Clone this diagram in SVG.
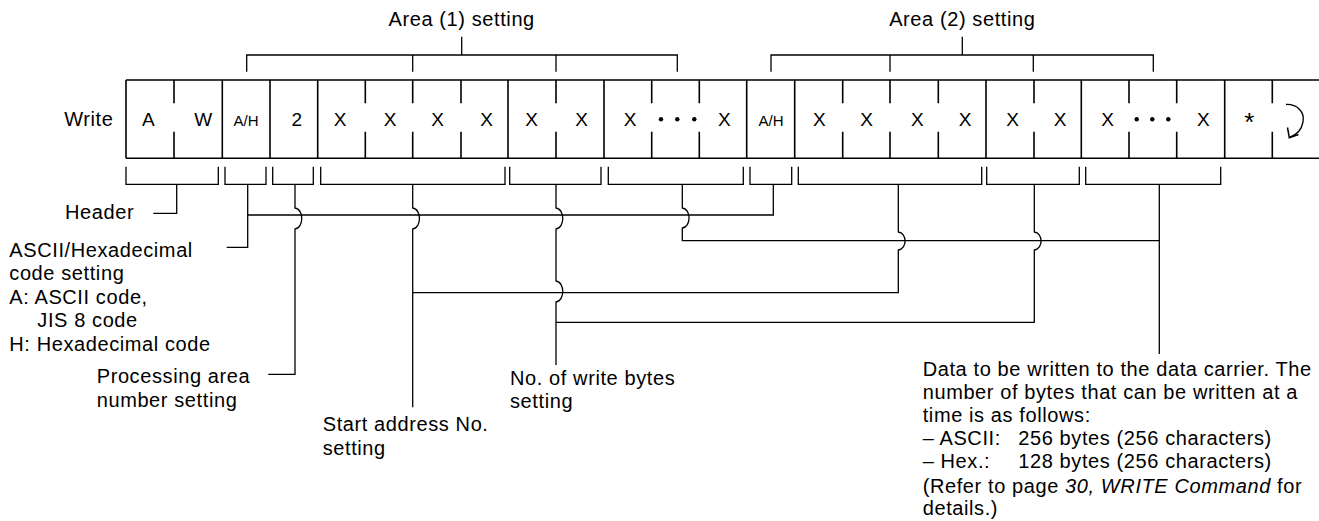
<svg xmlns="http://www.w3.org/2000/svg" width="1319" height="521" viewBox="0 0 1319 521">
<style>
.t{font-family:"Liberation Sans",Arial,sans-serif;font-size:20px;letter-spacing:0.6px;fill:#000}
.c{font-family:"Liberation Sans",Arial,sans-serif;font-size:19px;text-anchor:middle;fill:#000}
.s{font-size:15px}
.i{font-style:italic}
.bx{stroke:#000;stroke-width:1.6;fill:none}
.ln{stroke:#000;stroke-width:1.3;fill:none}
</style>
<rect width="1319" height="521" fill="#fff"/>

<g id="area1-label">
<text class="t" x="461.7" y="26" text-anchor="middle">Area (1) setting</text>
<path class="ln" d="M461.7,36.7V55M246.7,71.7V55H677.3V71.7M412.7,55V71.7M556,55V71.7"/>
</g>
<g id="area2-label">
<text class="t" x="962.3" y="26" text-anchor="middle">Area (2) setting</text>
<path class="ln" d="M962.3,36.7V55M771,71.7V55H1153.3V71.7M890,55V71.7M1033.3,55V71.7"/>
</g>

<g id="write-frame">
<text class="t" x="113.5" y="126" text-anchor="end">Write</text>
<path class="bx" d="M126,80H1319M126,158.3H1319M126,80V158.3M222.3,80V158.3M270,80V158.3M317.7,80V158.3M508,80V158.3M604,80V158.3M746.7,80V158.3M794.7,80V158.3M986,80V158.3M1081.3,80V158.3M1224.7,80V158.3"/>
<path class="bx" d="M174,80V103.3M174,131.7V158.3M365.3,80V103.3M365.3,131.7V158.3M412.7,80V103.3M412.7,131.7V158.3M461,80V103.3M461,131.7V158.3M556,80V103.3M556,131.7V158.3M651.7,80V103.3M651.7,131.7V158.3M699.3,80V103.3M699.3,131.7V158.3M842.7,80V103.3M842.7,131.7V158.3M890,80V103.3M890,131.7V158.3M938.3,80V103.3M938.3,131.7V158.3M1034,80V103.3M1034,131.7V158.3M1129,80V103.3M1129,131.7V158.3M1176.7,80V103.3M1176.7,131.7V158.3M1272.3,80V103.3M1272.3,131.7V158.3"/>
<text class="c" x="148.3" y="126">A</text>
<text class="c" x="203.3" y="126">W</text>
<text class="c s" x="246" y="126">A/H</text>
<text class="c" x="296.7" y="126">2</text>
<text class="c" x="340" y="126">X</text>
<text class="c" x="390" y="126">X</text>
<text class="c" x="437.7" y="126">X</text>
<text class="c" x="486.7" y="126">X</text>
<text class="c" x="531.7" y="126">X</text>
<text class="c" x="581.7" y="126">X</text>
<text class="c" x="630" y="126">X</text>
<circle cx="661" cy="119.3" r="2.2"/><circle cx="677.3" cy="119.3" r="2.2"/><circle cx="694.3" cy="119.3" r="2.2"/>
<text class="c" x="724.3" y="126">X</text>
<text class="c s" x="771" y="126">A/H</text>
<text class="c" x="819.3" y="126">X</text>
<text class="c" x="866.7" y="126">X</text>
<text class="c" x="917.3" y="126">X</text>
<text class="c" x="965" y="126">X</text>
<text class="c" x="1012.7" y="126">X</text>
<text class="c" x="1060" y="126">X</text>
<text class="c" x="1107.7" y="126">X</text>
<circle cx="1136.7" cy="119.3" r="2.2"/><circle cx="1152.3" cy="119.3" r="2.2"/><circle cx="1168.3" cy="119.3" r="2.2"/>
<text class="c" x="1203.3" y="126">X</text>
<text class="c" x="1249.3" y="131" style="font-size:26px" fill="#333">*</text>
<path class="ln" d="M1286,104.5C1297,104 1305,112 1303,122C1301.5,130 1296,135 1290,137"/>
<path class="ln" style="stroke-width:1.5" d="M1287.5,127.5L1289.3,137.8L1298.5,134.5"/>
</g>

<g id="connectors">
<path class="ln" d="M126,166.7V184.3H218.3V166.7"/>
<path class="ln" d="M225,166.7V184.3H266V166.7"/>
<path class="ln" d="M272.7,166.7V184.3H313.3V166.7"/>
<path class="ln" d="M320.7,166.7V184.3H505V166.7"/>
<path class="ln" d="M509.7,166.7V184.3H601V166.7"/>
<path class="ln" d="M608.3,166.7V184.3H743.3V166.7"/>
<path class="ln" d="M750,166.7V184.3H791.7V166.7"/>
<path class="ln" d="M798.3,166.7V184.3H981.7V166.7"/>
<path class="ln" d="M986.7,166.7V184.3H1079.3V166.7"/>
<path class="ln" d="M1085.7,166.7V184.3H1220.7V166.7"/>

<path class="ln" d="M176.7,184.3V213.3H153.3"/>
<path class="ln" d="M247.7,184.3V247.3H226.7"/>
<path class="ln" d="M247.7,215H773.3V184.3"/>
<path class="ln" d="M295,184.3V208C304,209 304,228 295,229V374.3H268.3"/>
<path class="ln" d="M412.7,184.3V208C421.7,209 421.7,228 412.7,229V407.3"/>
<path class="ln" d="M556,184.3V208C565,209 565,228 556,229V281C565,282 565,301 556,302V365"/>
<path class="ln" d="M682.3,184.3V208C691.3,209 691.3,227 682.3,228V240.7H1159.3"/>
<path class="ln" d="M898.3,184.3V232C907.3,233 907.3,249 898.3,250V292.7H412.7"/>
<path class="ln" d="M1034.3,184.3V232C1043.3,233 1043.3,249 1034.3,250V322.3H556"/>
<path class="ln" d="M1159.3,184.3V354"/>
</g>

<g id="header-label">
<text class="t" x="65" y="219.3">Header</text>
</g>
<g id="ascii-label">
<text class="t" x="9.3" y="256.7">ASCII/Hexadecimal</text>
<text class="t" x="9.3" y="280.3">code setting</text>
<text class="t" x="9.3" y="303.7">A: ASCII code,</text>
<text class="t" x="37.3" y="327">JIS 8 code</text>
<text class="t" x="9.3" y="350.5">H: Hexadecimal code</text>
</g>
<g id="area-number-label">
<text class="t" x="96.7" y="383.3">Processing area</text>
<text class="t" x="96.7" y="406.7">number setting</text>
</g>
<g id="start-address-label">
<text class="t" x="322.7" y="431">Start address No.</text>
<text class="t" x="322.7" y="455">setting</text>
</g>
<g id="write-bytes-label">
<text class="t" x="510" y="385">No. of write bytes</text>
<text class="t" x="510" y="408.3">setting</text>
</g>
<g id="data-label">
<text class="t" x="922.7" y="376">Data to be written to the data carrier. The</text>
<text class="t" x="922.7" y="399.3">number of bytes that can be written at a</text>
<text class="t" x="922.7" y="422">time is as follows:</text>
<text class="t" x="922.7" y="445">– ASCII:<tspan x="1018.3">256 bytes (256 characters)</tspan></text>
<text class="t" x="922.7" y="468.3">– Hex.:<tspan x="1018.3">128 bytes (256 characters)</tspan></text>
<text class="t" x="922.7" y="492.7">(Refer to page <tspan class="i">30, WRITE Command</tspan> for</text>
<text class="t" x="922.7" y="515">details.)</text>
</g>
</svg>
